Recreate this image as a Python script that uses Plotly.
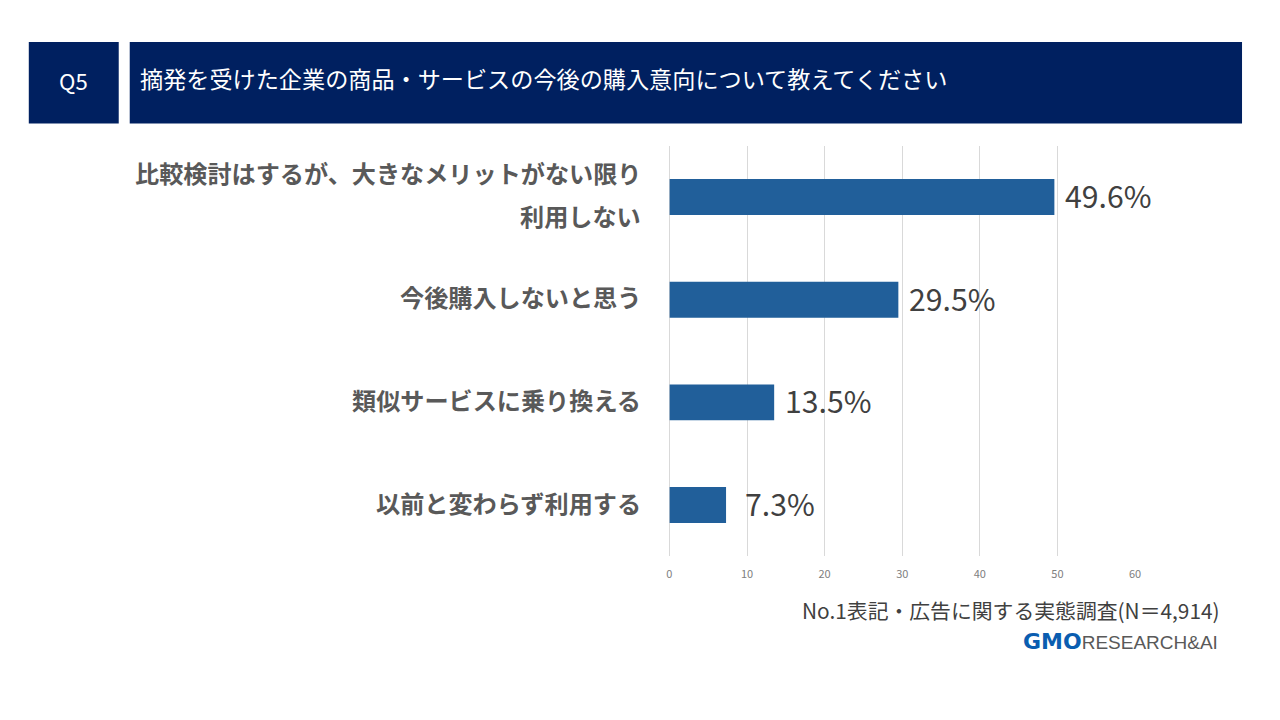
import plotly.graph_objects as go

# Data
categories = [
    "比較検討はするが、大きなメリットがない限り<br>利用しない",
    "今後購入しないと思う",
    "類似サービスに乗り換える",
    "以前と変わらず利用する",
]
values = [49.6, 29.5, 13.5, 7.3]
value_labels = ["49.6%", "29.5%", "13.5%", "7.3%"]
tick_values = [0, 10, 20, 30, 40, 50, 60]

question_no = "Q5"
question = "摘発を受けた企業の商品・サービスの今後の購入意向について教えてください"
source = "No.1表記・広告に関する実態調査(N＝4,914)"

# figure lands a little offset / scaled on the page, so map target pixels back
W, H = 1264, 690
OX, OY, K = 10.2, 8.2, 0.9935
NAVY = "#002060"
BAR = "#215f9a"
JP = "Noto Sans CJK JP"


def px(x):
    return ((x - OX) / K) / W


def py(y):
    return 1 - ((y - OY) / K) / H


def fs(s):
    return s / K


fig = go.Figure(go.Bar(
    y=categories,
    x=values,
    orientation="h",
    width=0.35,
    marker=dict(color=BAR, line=dict(width=0)),
    hoverinfo="skip",
))

annotations = []
# value labels next to bars
for cat, v, lab in zip(categories, values, value_labels):
    annotations.append(dict(
        x=v, y=cat, xref="x", yref="y", text=lab, showarrow=False,
        xanchor="left", yanchor="middle", xshift=17 if v < 10 else 9, yshift=2,
        font=dict(family=JP, size=fs(30), color="#404040"),
    ))
# category labels (right aligned, custom line spacing)
for cat in categories:
    lines = cat.split("<br>")
    n = len(lines)
    for i, line in enumerate(lines):
        annotations.append(dict(
            x=px(643), y=cat, xref="paper", yref="y",
            text=f"<b>{line}</b>", showarrow=False,
            xanchor="right", yanchor="middle",
            yshift=((n - 1) / 2 - i) * 43 + 3,
            font=dict(family=JP, size=fs(24), color="#595959"),
        ))

# header texts
annotations += [
    dict(x=px(73), y=py(80), xref="paper", yref="paper", text=question_no,
         showarrow=False, xanchor="center", yanchor="middle",
         font=dict(family=JP, size=fs(22), color="white")),
    dict(x=px(137), y=py(78), xref="paper", yref="paper", text=question,
         showarrow=False, xanchor="left", yanchor="middle",
         font=dict(family=JP, size=fs(23), color="white")),
    dict(x=px(1222), y=py(606), xref="paper", yref="paper", text=source,
         showarrow=False, xanchor="right", yanchor="middle",
         font=dict(family=JP, size=fs(20.7), color="#404040")),
    dict(x=px(1220), y=py(638), xref="paper", yref="paper",
         text="<span style='font-family:DejaVu Sans;font-weight:bold;color:#0a5db0;font-size:22px'>GMO</span>"
              "<span style='font-family:Liberation Sans;color:#595959;font-size:19px'>RESEARCH&amp;AI</span>",
         showarrow=False, xanchor="right", yanchor="middle",
         font=dict(family="Liberation Sans", size=19, color="#595959")),
]

shapes = [
    dict(type="rect", xref="paper", yref="paper", x0=px(28), x1=px(118),
         y0=py(123), y1=py(42), fillcolor=NAVY, line=dict(width=0), layer="below"),
    dict(type="rect", xref="paper", yref="paper", x0=px(129), x1=px(1242),
         y0=py(123), y1=py(42), fillcolor=NAVY, line=dict(width=0), layer="below"),
]

fig.update_layout(
    width=W, height=H,
    margin=dict(l=0, r=0, t=0, b=0),
    paper_bgcolor="white",
    plot_bgcolor="white",
    showlegend=False,
    annotations=annotations,
    shapes=shapes,
    xaxis=dict(
        domain=[px(669), px(1135)],
        range=[0, 60],
        tickvals=tick_values,
        showgrid=True, gridcolor="#d9d9d9", gridwidth=1,
        zeroline=True, zerolinecolor="#d9d9d9", zerolinewidth=1,
        showline=False,
        ticks="outside", ticklen=7, tickcolor="rgba(0,0,0,0)",
        tickfont=dict(family=JP, size=11, color="#808080"),
        fixedrange=True,
    ),
    yaxis=dict(
        domain=[py(553), py(145)],
        autorange="reversed",
        showticklabels=False,
        showgrid=False, zeroline=False, showline=False,
        fixedrange=True,
    ),
)

fig.write_html("out.html")
